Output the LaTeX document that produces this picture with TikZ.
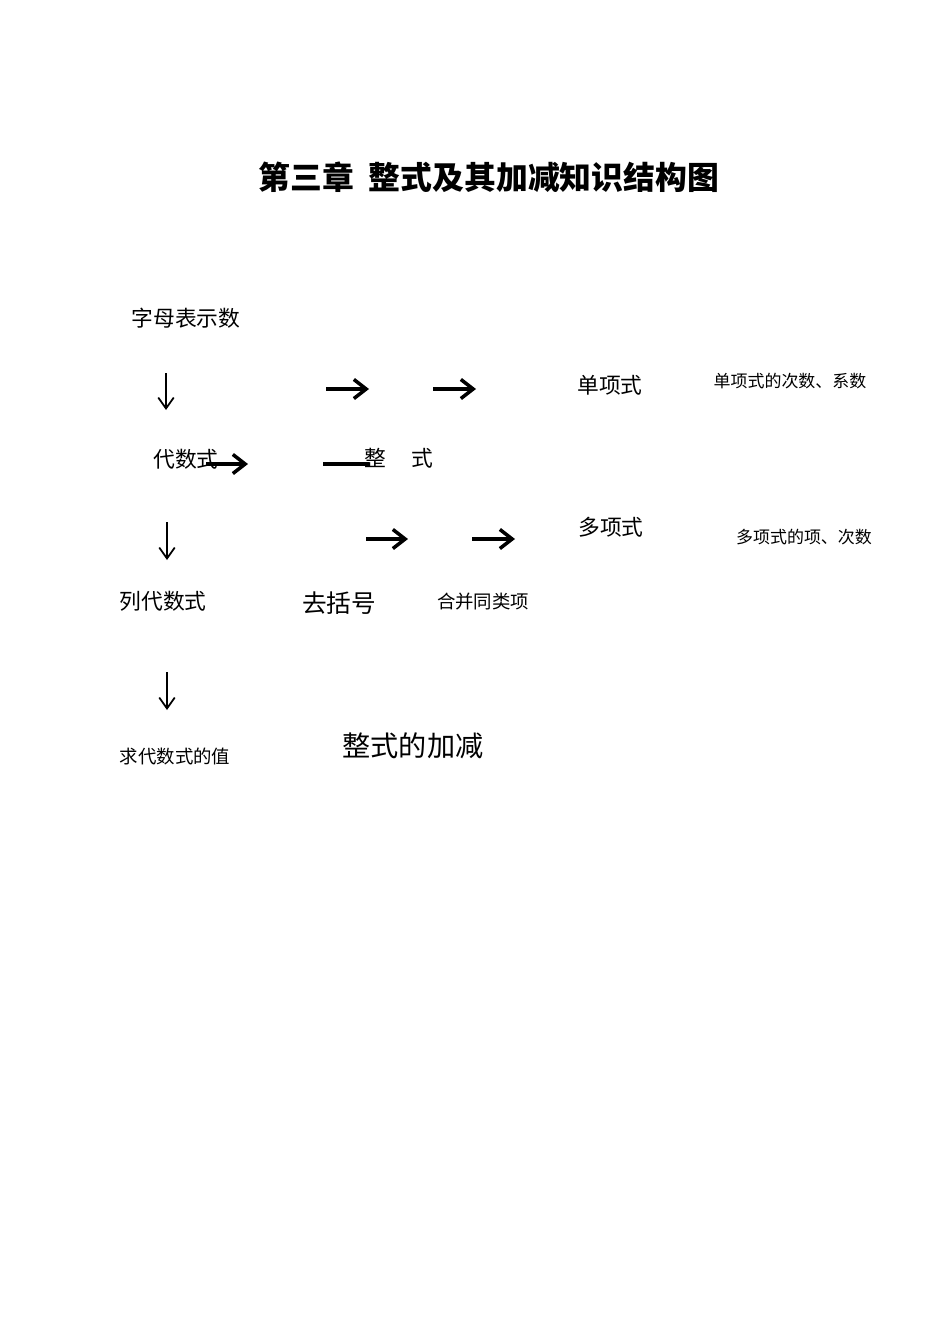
\documentclass[tikz,border=0pt]{standalone}
\usepackage{fontspec}
\setmainfont{Noto Sans CJK SC}
\usepackage{tikz}
\usetikzlibrary{arrows.meta}

\begin{document}
\begin{tikzpicture}[x=0.625pt, y=-0.625pt,
  ttl/.style={inner sep=0pt, font=\fontsize{19.9}{22}\selectfont\bfseries},
  big/.style={inner sep=0pt, font=\fontsize{13.6}{16}\selectfont},
  mid/.style={inner sep=0pt, font=\fontsize{11.5}{14}\selectfont},
  sml/.style={inner sep=0pt, font=\fontsize{10.6}{13}\selectfont},
  darr/.style={-{Straight Barb[length=2.4mm,width=3.4mm]}, line width=1.1pt},
  rarr/.style={-{Straight Barb[length=2.7mm,width=4.2mm]}, line width=2.2pt},
  bar/.style={line width=3.1pt},
]
\useasboundingbox (0,0) rectangle (950,1344);

% --- title ---
\node[ttl] (title) at (489,177) {第三章\ \ 整式及其加减知识结构图};

% --- left column ---
\node[big] (zimu)  at (186,318) {字母表示数};
\node[big] (dsx)   at (186,459) {代数式};
\node[big] (lie)   at (163,601) {列代数式};
\node[mid] (qiu)   at (175,756) {求代数式的值};

% --- middle ---
\node[big] (zs)    at (399,458) {整\hspace{1.15em}式};
\node[font=\fontsize{15.4}{18}\selectfont, inner sep=0pt] (qkh) at (339,603) {去括号};
\node[mid] (hb)    at (483,602) {合并同类项};
\node[font=\fontsize{17.6}{20}\selectfont, inner sep=0pt] (jj) at (413,746) {整式的加减};

% --- right ---
\node[big] (dan)   at (610,385) {单项式};
\node[sml] (dancs) at (790,381) {单项式的次数、系数};
\node[big] (duo)   at (611,527) {多项式};
\node[sml] (duocs) at (804,537) {多项式的项、次数};

% --- arrow ends ---
\coordinate (d1a) at (166,373); \coordinate (d1b) at (166,410);
\coordinate (d2a) at (167,522); \coordinate (d2b) at (167,560);
\coordinate (d3a) at (167,672); \coordinate (d3b) at (167,710);
\coordinate (r1a) at (326,389); \coordinate (r1b) at (369,389);
\coordinate (r2a) at (433,389); \coordinate (r2b) at (476,389);
\coordinate (r3a) at (206,464); \coordinate (r3b) at (248,464);
\coordinate (r4a) at (366,539); \coordinate (r4b) at (408,539);
\coordinate (r5a) at (472,539); \coordinate (r5b) at (515,539);
\coordinate (b1a) at (323,464); \coordinate (b1b) at (369,464);

% --- arrows ---
\draw[darr] (d1a) -- (d1b);
\draw[darr] (d2a) -- (d2b);
\draw[darr] (d3a) -- (d3b);
\draw[rarr] (r1a) -- (r1b);
\draw[rarr] (r2a) -- (r2b);
\draw[rarr] (r3a) -- (r3b);
\draw[rarr] (r4a) -- (r4b);
\draw[rarr] (r5a) -- (r5b);
\draw[bar] (b1a) -- (b1b);

\end{tikzpicture}
\end{document}
